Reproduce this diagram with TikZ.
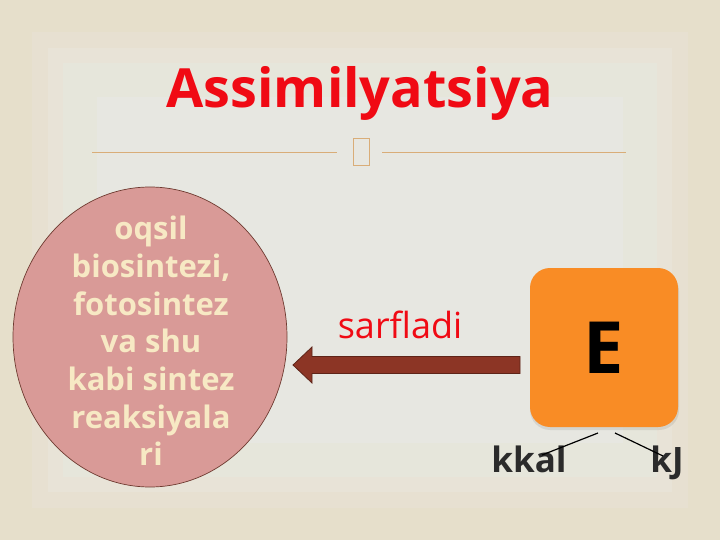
\documentclass[tikz,border=0pt]{standalone}
\usepackage{fontspec}
\setmainfont{Open Sans}
\usetikzlibrary{calc,shapes.geometric}

\definecolor{bg0}{HTML}{E6DFCB}
\definecolor{bg1}{HTML}{E7E0D1}
\definecolor{bg2}{HTML}{E8E3D7}
\definecolor{bg3}{HTML}{E6E6DB}
\definecolor{bg4}{HTML}{E7E7E1}
\definecolor{rulecol}{HTML}{D9AD78}
\definecolor{titlered}{HTML}{F00A14}
\definecolor{circfill}{HTML}{D99A97}
\definecolor{circline}{HTML}{6E3A30}
\definecolor{circtext}{HTML}{F7E9C4}
\definecolor{arrowfill}{HTML}{8C3525}
\definecolor{arrowline}{HTML}{5E2418}
\definecolor{boxorange}{HTML}{F98C25}
\definecolor{unitgray}{HTML}{2B2B2B}

\tikzset{
  headline/.style={text=titlered,font=\fontsize{54}{58}\selectfont\bfseries},
  bubble/.style={ellipse,fill=circfill,draw=circline,line width=0.7pt,
    minimum width=274pt,minimum height=300pt,inner sep=0pt},
  bubbletext/.style={text=circtext,align=center,
    font=\fontsize{31}{37.7}\selectfont\bfseries},
  energybox/.style={rounded corners=20pt,fill=boxorange,
    minimum width=148pt,minimum height=159pt,inner sep=0pt,
    font=\fontsize{72}{74}\selectfont\bfseries},
  unit/.style={text=unitgray,font=\fontsize{35}{38}\selectfont\bfseries},
  verb/.style={text=titlered,font=\fontsize{36}{40}\selectfont},
  bigarrow/.style={fill=arrowfill,draw=arrowline,line width=0.8pt},
  tick/.style={line width=1.2pt},
}

\begin{document}
\begin{tikzpicture}[x=1pt,y=-1pt]
% background
\fill[bg0] (0,0) rectangle (720,540);
\fill[bg1] (32,32) rectangle (688,508);
\fill[bg2] (48,48) rectangle (672,492);
\fill[bg3] (63,63) rectangle (657,477);
\fill[bg4] (97,97) rectangle (623,443);
\useasboundingbox (0,0) rectangle (720,540);

% title and rule
\node[headline,anchor=base] (title) at (360,108) {Assimilyatsiya};
\node[draw=rulecol,line width=1pt,minimum width=16pt,minimum height=27pt,
  inner sep=0pt] (glyph) at (361.5,152) {};
\coordinate (ruleL) at (92,152);
\coordinate (ruleR) at (626,152);
\draw[rulecol,line width=0.9pt] (ruleL) -- ([xshift=-16pt]glyph.west);
\draw[rulecol,line width=0.9pt] ([xshift=12pt]glyph.east) -- (ruleR);

% the circle
\node[bubble] (circ) at (150,337) {};
\node[bubbletext] (ctext) at (151,341) {oqsil\\biosintezi,\\fotosintez\\va shu\\kabi sintez\\reaksiyala\\ri};

% energy box
\fill[black,opacity=0.08,rounded corners=20pt] (530,271) rectangle (679,430);
\node[energybox] (E) at (604,347.5) {E};

% arrow from the box to the circle
\coordinate (tail) at (520,365);
\coordinate (tip) at (293,365);
\draw[bigarrow] (tail) ++(0,-8.5) -- ($(tip)+(19,-8.5)$) -- ++(0,-9.5) -- (tip)
  -- ($(tip)+(19,18)$) -- ++(0,-9.5) -- ($(tail)+(0,8.5)$) -- cycle;
\node[verb,anchor=base] (sarf) at (400,338) {sarfladi};

% units
\node[unit,anchor=base] (kkal) at (529,472) {kkal};
\node[unit,anchor=base] (kj) at (667,472) {kJ};
\coordinate (lA) at (598,433);
\coordinate (lB) at (615,433);
\draw[tick] (lA) -- ($(kkal.base)+(13,-17)$);
\draw[tick] (lB) -- ($(kj.base)+(-4,-16)$);
\end{tikzpicture}
\end{document}
